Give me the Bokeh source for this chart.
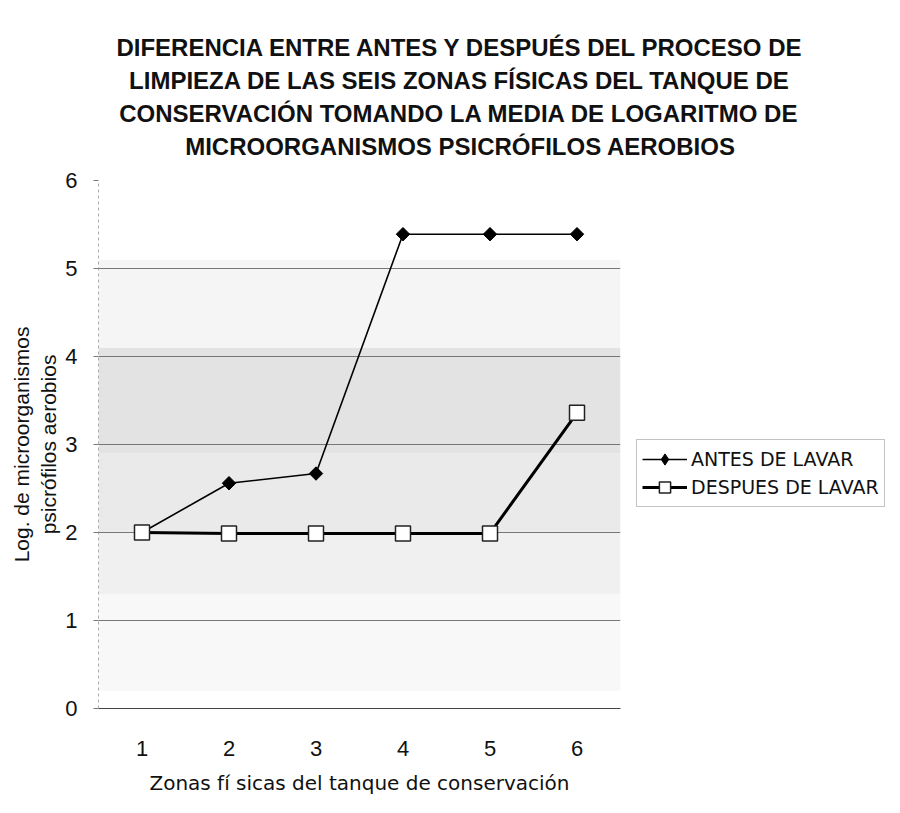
import math
from bokeh.plotting import figure
from bokeh.models import (Legend, LegendItem, FixedTicker, BoxAnnotation, Range1d, Title)
from bokeh.embed import file_html
from bokeh.resources import INLINE

zones = [1, 2, 3, 4, 5, 6]
zone_labels = ["1", "2", "3", "4", "5", "6"]
antes = [2.0, 2.56, 2.67, 5.39, 5.39, 5.39]
despues = [2.0, 1.99, 1.99, 1.99, 1.99, 3.36]
y_ticks = [0, 1, 2, 3, 4, 5, 6]
grid_ticks = [1, 2, 3, 4, 5]
title_lines = [
    "DIFERENCIA ENTRE ANTES Y DESPUÉS DEL PROCESO DE",
    "LIMPIEZA  DE LAS SEIS ZONAS FÍSICAS DEL TANQUE DE",
    "CONSERVACIÓN TOMANDO LA MEDIA DE LOGARITMO DE",
    "MICROORGANISMOS PSICRÓFILOS AEROBIOS",
]
y_title = "Log. de microorganismos\npsicrófilos aerobios"
x_title = "Zonas fí sicas del tanque de conservación"
series_names = ["ANTES DE LAVAR", "DESPUES DE LAVAR"]

FL, FR, FT, FB = 98, 620, 180, 708
W, H = 900, 813
TITLE_PX = 24
TITLE_CENTER = 460

# Liberation Sans Bold (Arial Bold) advance widths per 1000 em, for centering the title lines
_bold_w = {"A": 722, "B": 722, "C": 722, "D": 722, "E": 667, "F": 611, "G": 778, "H": 722,
           "I": 278, "J": 556, "K": 722, "L": 611, "M": 833, "N": 722, "O": 778, "P": 667,
           "Q": 778, "R": 722, "S": 667, "T": 611, "U": 722, "V": 667, "W": 944, "X": 667,
           "Y": 667, "Z": 611, " ": 278, "É": 667, "Í": 278, "Ó": 778}


def text_width(s, px):
    return sum(_bold_w.get(ch, 667) for ch in " ".join(s.split())) * px / 1000.0


p = figure(frame_width=FR - FL, frame_height=FB - FT, output_backend="svg",
           toolbar_location=None,
           x_range=Range1d(0.5, 6.5), y_range=Range1d(0, 6),
           min_border_left=FL, min_border_right=W - FR,
           min_border_top=FT, min_border_bottom=H - FB)
p.outline_line_color = None
p.background_fill_color = "white"
p.border_fill_color = "white"

# scanned grey tint
for b, t, c in [(0.2, 1.3, "#f8f8f8"), (1.3, 2.0, "#f0f0f0"), (2.0, 2.9, "#eaeaea"),
                (2.9, 4.1, "#e3e3e3"), (4.1, 5.1, "#f5f5f5")]:
    p.add_layout(BoxAnnotation(bottom=b, top=t, fill_color=c, fill_alpha=1,
                               line_color=None, level="image"))

# axes
p.xaxis.ticker = FixedTicker(ticks=zones)
p.xaxis.major_label_overrides = {z: l for z, l in zip(zones, zone_labels)}
p.xaxis.major_tick_line_color = None
p.xaxis.minor_tick_line_color = None
p.xaxis.axis_line_color = "#444444"
p.xaxis.major_label_standoff = 26
p.xaxis.major_label_text_font = "Liberation Sans"
p.xaxis.major_label_text_font_size = "22px"
p.xaxis.major_label_text_color = "#111111"
p.xaxis.axis_label = x_title
p.xaxis.axis_label_text_font = "DejaVu Sans"
p.xaxis.axis_label_text_font_style = "normal"
p.xaxis.axis_label_text_font_size = "20px"
p.xaxis.axis_label_text_color = "#111111"
p.xaxis.axis_label_standoff = 12

p.yaxis.ticker = FixedTicker(ticks=y_ticks)
p.yaxis.minor_tick_line_color = None
p.yaxis.major_tick_in = 0
p.yaxis.major_tick_out = 5
p.yaxis.major_tick_line_color = "#777777"
p.yaxis.axis_line_color = "#aaaaaa"
p.yaxis.axis_line_dash = "3 3"
p.yaxis.major_label_standoff = 16
p.yaxis.major_label_text_font = "Liberation Sans"
p.yaxis.major_label_text_font_size = "22px"
p.yaxis.major_label_text_color = "#111111"
p.yaxis.axis_label = y_title
p.yaxis.axis_label_text_font = "Liberation Sans"
p.yaxis.axis_label_text_font_style = "normal"
p.yaxis.axis_label_text_font_size = "21px"
p.yaxis.axis_label_text_color = "#111111"
p.yaxis.axis_label_standoff = 2

p.xgrid.grid_line_color = None
p.ygrid.ticker = FixedTicker(ticks=grid_ticks)
p.ygrid.grid_line_color = "#777777"
p.ygrid.grid_line_width = 1

# series
l1 = p.line(zones, antes, line_color="black", line_width=1.6)
k1 = p.scatter(zones, antes, marker="diamond", size=12, fill_color="black", line_color="black")
m1 = p.scatter(zones, antes, marker="square", angle=math.pi / 4, size=9.5,
               fill_color="black", line_color="black")
l2 = p.line(zones, despues, line_color="black", line_width=3)
m2 = p.scatter(zones, despues, marker="square", size=15, fill_color="white",
               line_color="#222222", line_width=1.5)

legend = Legend(items=[LegendItem(label=series_names[0], renderers=[l1, k1]),
                       LegendItem(label=series_names[1], renderers=[l2, m2])],
                location=(16, 201))
legend.label_text_font = "DejaVu Sans"
legend.label_text_font_size = "19px"
legend.label_text_color = "#111111"
legend.glyph_width = 45
legend.glyph_height = 28
legend.spacing = 0
legend.padding = 5
legend.margin = 0
legend.label_standoff = 4
legend.border_line_color = "#888888"
legend.border_line_width = 1
legend.background_fill_color = "white"
legend.background_fill_alpha = 1
p.add_layout(legend, "right")

# title lines, stacked outward from the frame
p.add_layout(Title(text=" ", text_font_size="15px", standoff=0), "above")
for t in reversed(title_lines):
    off = TITLE_CENTER - FL - text_width(t, TITLE_PX) / 2
    p.add_layout(Title(text=t, align="left", offset=off, standoff=4,
                       text_font="Liberation Sans", text_font_style="bold",
                       text_font_size=f"{TITLE_PX}px", text_color="#111111"), "above")

open("out.html", "w").write(file_html(p, INLINE))
